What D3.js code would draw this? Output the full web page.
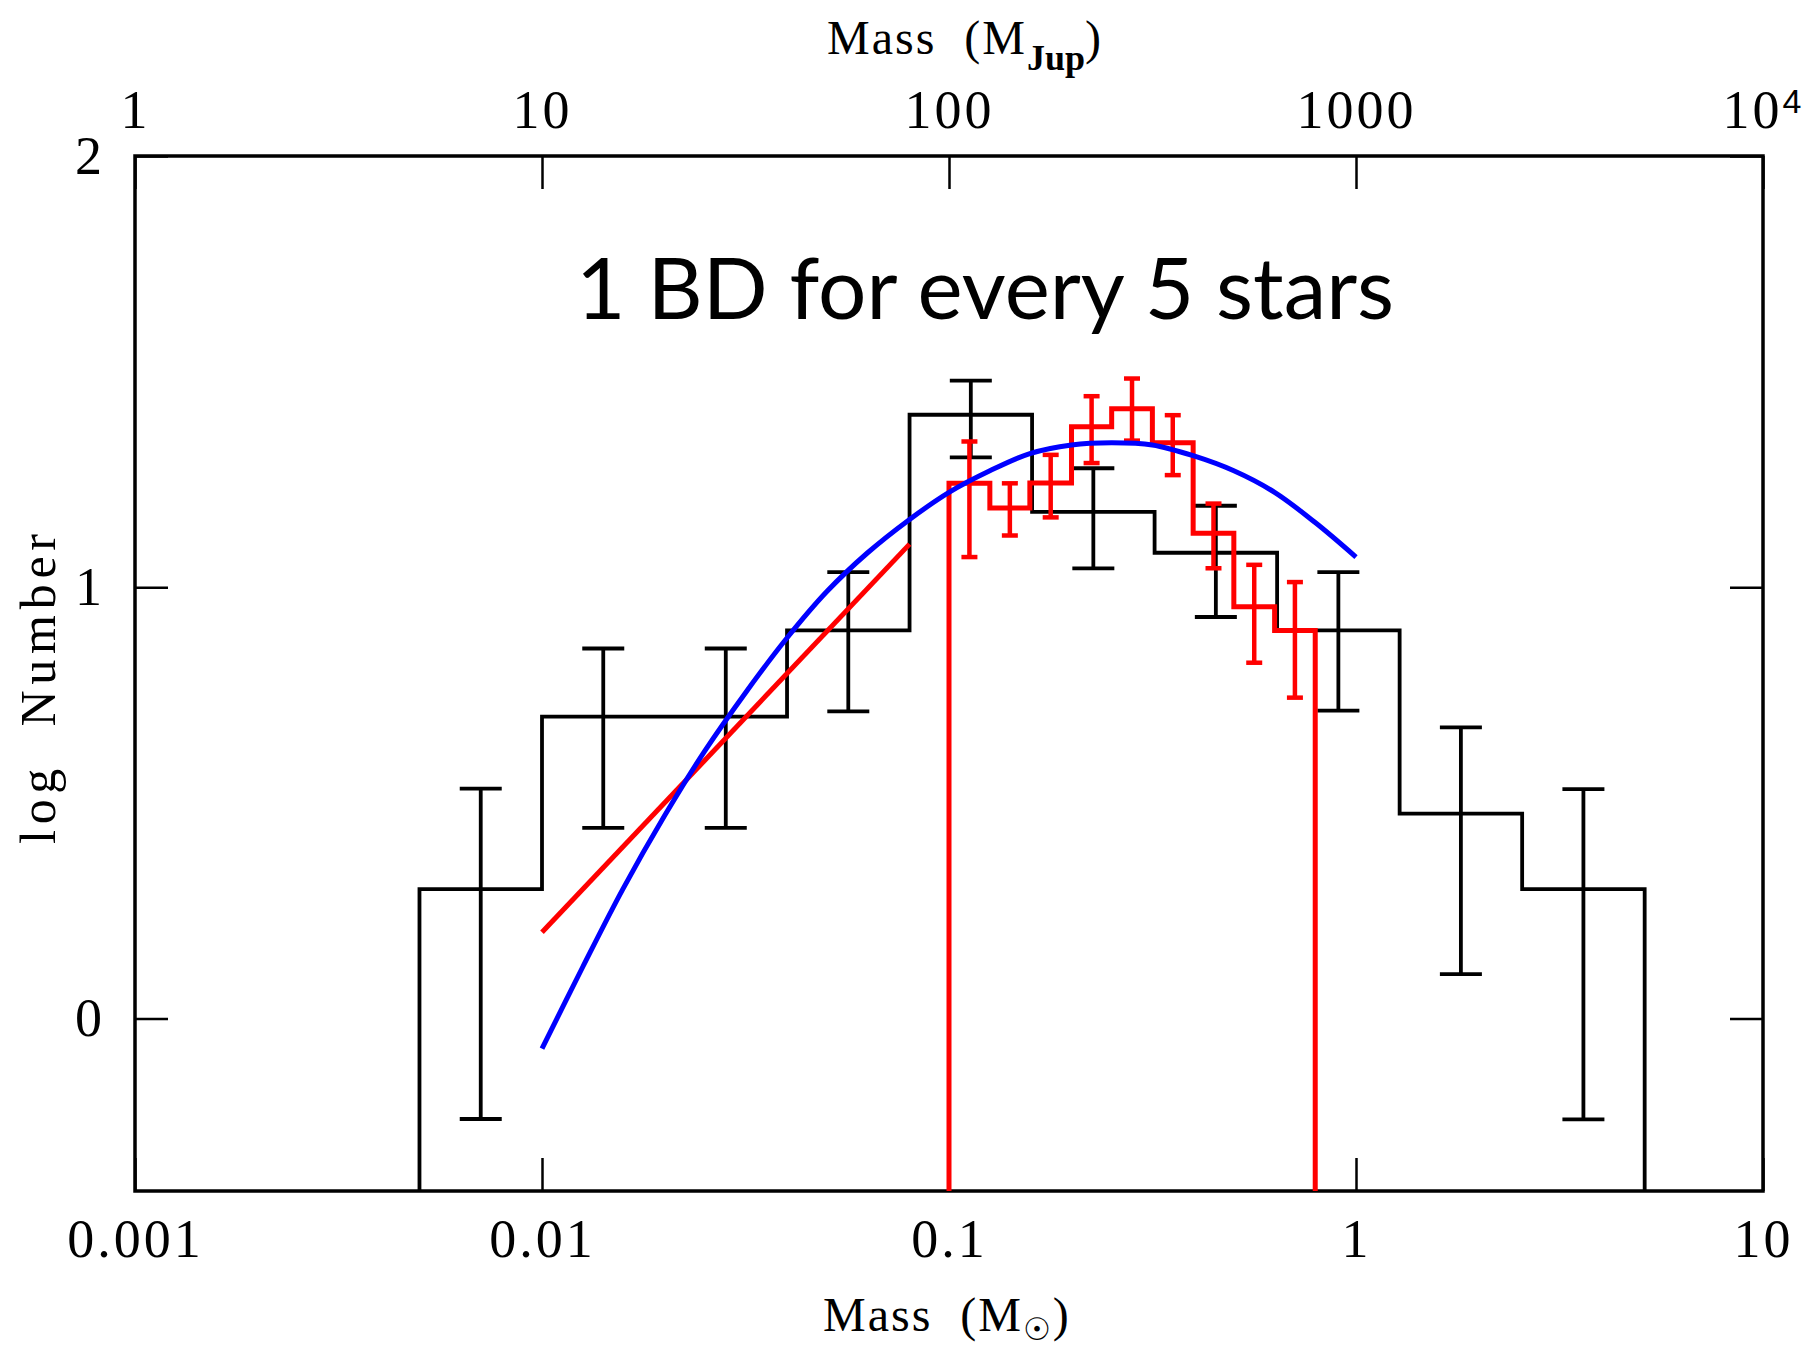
<!DOCTYPE html>
<html>
<head>
<meta charset="utf-8">
<script src="https://cdn.jsdelivr.net/npm/d3@7"></script>
<style>
  html, body { margin: 0; padding: 0; background: #fff; }
  svg { display: block; }
</style>
</head>
<body>
<svg id="chart" width="1812" height="1353"></svg>
<script>
// Field sample: factor-of-two mass bins (solar masses) and log counts
const binEdges = [0.005, 0.01, 0.02, 0.04, 0.08, 0.16, 0.32, 0.64, 1.28, 2.56, 5.12];
const binLogN  = [0.30, 0.70, 0.70, 0.90, 1.40, 1.175, 1.08, 0.90, 0.475, 0.30];
const binErrHi = [0.533, 0.858, 0.858, 1.035, 1.479, 1.276, 1.189, 1.035, 0.675, 0.532];
const binErrLo = [-0.233, 0.442, 0.442, 0.712, 1.301, 1.044, 0.931, 0.714, 0.103, -0.234];

// Stellar sample: 0.1 dex bins from 0.1 to 0.8 solar masses
const starEdges  = [0.1, 0.126, 0.158, 0.2, 0.251, 0.316, 0.398, 0.501, 0.631, 0.794];
const starLogN   = [1.241, 1.184, 1.242, 1.372, 1.414, 1.335, 1.125, 0.955, 0.900];
const starErrHi  = [1.338, 1.241, 1.307, 1.443, 1.484, 1.399, 1.194, 1.052, 1.012];
const starErrLo  = [1.070, 1.120, 1.162, 1.288, 1.340, 1.260, 1.044, 0.825, 0.744];

// Power-law fit across the substellar range
const powerMass = [0.01, 0.08];
const powerLogN = [0.20, 1.10];

// Log-normal fit
const lognMass = [0.01, 0.0126, 0.0158, 0.02, 0.0251, 0.0316, 0.0398, 0.0501, 0.0631, 0.0794,
                  0.1, 0.126, 0.158, 0.2, 0.251, 0.316, 0.398, 0.501, 0.631, 0.794, 1.0];
const lognLogN = [-0.07, 0.12, 0.30, 0.47, 0.62, 0.755, 0.88, 0.99, 1.08, 1.155,
                  1.22, 1.27, 1.31, 1.33, 1.335, 1.33, 1.305, 1.27, 1.22, 1.15, 1.07];

// Axis ticks and labels
const xTicksSun  = [0.001, 0.01, 0.1, 1, 10];
const xLabelsSun = ["0.001", "0.01", "0.1", "1", "10"];
const xTicksJup  = [1, 10, 100, 1000, 10000];
const xLabelsJup = ["1", "10", "100", "1000", "10"];
const yTicks     = [0, 1, 2];
const yLabels    = ["0", "1", "2"];

const headline = "1 BD for every 5 stars";

const svg = d3.select("#chart");
const plotLeft = 135, plotRight = 1763, plotTop = 156, plotBottom = 1191;

const x = d3.scaleLog().domain([0.001, 10]).range([plotLeft, plotRight]);
const xJup = d3.scaleLog().domain([1, 1e4]).range([plotLeft, plotRight]);
const y = d3.scaleLinear().domain([-0.4, 2]).range([plotBottom, plotTop]);

const serif = "'Liberation Serif', 'DejaVu Serif', serif";
const tickLen = 33;

function styleAxis(g, showText) {
  g.select(".domain").remove();
  g.selectAll(".tick line").attr("stroke", "#000").attr("stroke-width", 2.5);
  g.selectAll(".tick text")
    .attr("fill", "#000")
    .style("font-family", serif)
    .style("font-size", "54px")
    .style("letter-spacing", "3px")
    .style("display", showText ? null : "none");
}

// bottom axis (solar masses)
svg.append("g")
  .attr("transform", `translate(0,${plotBottom})`)
  .call(d3.axisBottom(x).tickValues(xTicksSun)
    .tickFormat((d, i) => xLabelsSun[i]).tickSize(-tickLen).tickPadding(28))
  .call(g => styleAxis(g, true));

// top axis (Jupiter masses)
const topAxis = svg.append("g")
  .attr("transform", `translate(0,${plotTop})`)
  .call(d3.axisTop(xJup).tickValues(xTicksJup)
    .tickFormat((d, i) => xLabelsJup[i]).tickSize(-tickLen).tickPadding(28))
  .call(g => styleAxis(g, true));
topAxis.selectAll(".tick text")
  .filter(d => d === 1e4)
  .append("tspan")
  .attr("dy", "-0.45em")
  .style("font-size", "34px")
  .style("font-family", "'Liberation Sans', sans-serif")
  .text("4");

// left axis
svg.append("g")
  .attr("transform", `translate(${plotLeft},0)`)
  .call(d3.axisLeft(y).tickValues(yTicks)
    .tickFormat((d, i) => yLabels[i]).tickSize(-tickLen).tickPadding(30))
  .call(g => styleAxis(g, true));

// right axis (ticks only)
svg.append("g")
  .attr("transform", `translate(${plotRight},0)`)
  .call(d3.axisRight(y).tickValues(yTicks).tickSize(-tickLen))
  .call(g => styleAxis(g, false));

// plot frame
svg.append("rect")
  .attr("x", plotLeft).attr("y", plotTop)
  .attr("width", plotRight - plotLeft).attr("height", plotBottom - plotTop)
  .attr("fill", "none").attr("stroke", "#000").attr("stroke-width", 3.5);

// step outline of a histogram, closed down to the bottom of the frame
function stepPoints(edges, vals) {
  const floor = y.domain()[0];
  const pts = [[edges[0], floor]];
  vals.forEach((v, i) => { pts.push([edges[i], v]); pts.push([edges[i + 1], v]); });
  pts.push([edges[edges.length - 1], floor]);
  return pts;
}
const line = d3.line().x(d => x(d[0])).y(d => y(d[1]));

function errorBars(edges, hi, lo, color, width, cap) {
  const g = svg.append("g").attr("stroke", color).attr("stroke-width", width).attr("fill", "none");
  hi.forEach((h, i) => {
    const cx = x(Math.sqrt(edges[i] * edges[i + 1]));
    g.append("line").attr("x1", cx).attr("x2", cx).attr("y1", y(h)).attr("y2", y(lo[i]));
    g.append("line").attr("x1", cx - cap).attr("x2", cx + cap).attr("y1", y(h)).attr("y2", y(h));
    g.append("line").attr("x1", cx - cap).attr("x2", cx + cap).attr("y1", y(lo[i])).attr("y2", y(lo[i]));
  });
}

// field histogram
svg.append("path")
  .attr("d", line(stepPoints(binEdges, binLogN)))
  .attr("fill", "none").attr("stroke", "#000").attr("stroke-width", 3.8)
  .attr("stroke-linejoin", "miter");
errorBars(binEdges, binErrHi, binErrLo, "#000", 3.8, 21);

// power-law fit
svg.append("path")
  .attr("d", line(powerMass.map((m, i) => [m, powerLogN[i]])))
  .attr("fill", "none").attr("stroke", "#f00").attr("stroke-width", 5);

// stellar histogram
svg.append("path")
  .attr("d", line(stepPoints(starEdges, starLogN)))
  .attr("fill", "none").attr("stroke", "#f00").attr("stroke-width", 5);
errorBars(starEdges, starErrHi, starErrLo, "#f00", 4.5, 8);

// log-normal fit
svg.append("path")
  .attr("d", d3.line().x(d => x(d[0])).y(d => y(d[1])).curve(d3.curveCatmullRom)(lognMass.map((m, i) => [m, lognLogN[i]])))
  .attr("fill", "none").attr("stroke", "#00f").attr("stroke-width", 5);

// axis titles
const topTitle = svg.append("text")
  .attr("x", 827).attr("y", 54)
  .style("font-family", serif).style("font-size", "48px").style("letter-spacing", "2px")
  .attr("fill", "#000");
topTitle.append("tspan").text("Mass\u00a0\u00a0(M");
topTitle.append("tspan").attr("dy", 16).style("font-size", "36px").style("font-weight", "bold")
  .style("letter-spacing", "0px").text("Jup");
topTitle.append("tspan").attr("dy", -16).text(")");

const botTitle = svg.append("text")
  .attr("x", 823).attr("y", 1331)
  .style("font-family", serif).style("font-size", "48px").style("letter-spacing", "2px")
  .attr("fill", "#000");
botTitle.append("tspan").text("Mass\u00a0\u00a0(M");
botTitle.append("tspan").attr("dy", 9).style("font-size", "31px")
  .style("font-family", "'DejaVu Sans', sans-serif").text("\u2609");
botTitle.append("tspan").attr("dy", -9).text(")");

svg.append("text")
  .attr("transform", "translate(55,689) rotate(-90)")
  .attr("text-anchor", "middle")
  .style("font-family", serif).style("font-size", "50px")
  .attr("textLength", 310).attr("lengthAdjust", "spacing")
  .attr("fill", "#000")
  .text("log\u00a0\u00a0Number");

// headline
svg.append("text")
  .attr("x", 576).attr("y", 319)
  .style("font-family", "Lato, 'Open Sans', sans-serif").style("font-size", "86px")
  .attr("textLength", 818).attr("lengthAdjust", "spacingAndGlyphs")
  .attr("fill", "#000")
  .text(headline);
</script>
</body>
</html>
